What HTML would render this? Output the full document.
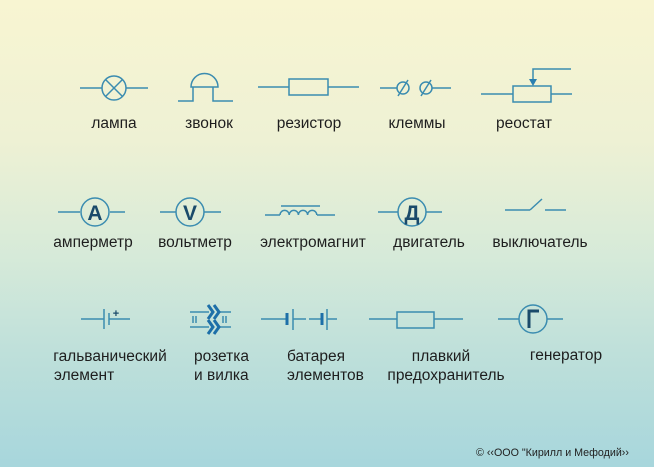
<!DOCTYPE html>
<html><head><meta charset="utf-8"><style>
html,body{margin:0;padding:0}
body{width:654px;height:467px;overflow:hidden;background:linear-gradient(180deg,#f8f5d2 0%,#eef1d4 30%,#d6ead9 55%,#bfe0da 75%,#a7d6dc 100%);font-family:"Liberation Sans",sans-serif}
svg{position:absolute;left:0;top:0}
</style></head><body>
<svg width="654" height="467" viewBox="0 0 654 467">
<g stroke="#3b8cb0" stroke-width="1.5" fill="none">
<line x1="80" y1="88" x2="102" y2="88"/><line x1="126" y1="88" x2="148" y2="88"/>
<circle cx="114" cy="88" r="12"/><line x1="105.5" y1="79.5" x2="122.5" y2="96.5"/><line x1="122.5" y1="79.5" x2="105.5" y2="96.5"/>
<path d="M191 87 A13.5 13.5 0 0 1 218 87 Z"/><path d="M178 101 H193 V87 M213 87 V101 H233"/>
<line x1="258" y1="87" x2="289" y2="87"/><line x1="328" y1="87" x2="359" y2="87"/><rect x="289" y="79" width="39" height="16"/>
<line x1="380" y1="88" x2="397" y2="88"/><circle cx="403" cy="88" r="6"/><line x1="398" y1="96" x2="408" y2="80"/>
<circle cx="426" cy="88" r="6"/><line x1="421" y1="96" x2="431" y2="80"/><line x1="432" y1="88" x2="451" y2="88"/>
<line x1="481" y1="94" x2="513" y2="94"/><line x1="551" y1="94" x2="572" y2="94"/><rect x="513" y="86" width="38" height="16"/>
<path d="M571 69 H533 V80"/>
</g>
<path d="M529 79 L537 79 L533 86 Z" fill="#2a7fb0"/>
<g stroke="#3b8cb0" stroke-width="1.5" fill="none">
<line x1="58" y1="212" x2="80" y2="212"/><line x1="110" y1="212" x2="125" y2="212"/><circle cx="95" cy="212" r="14"/>
<line x1="160" y1="212" x2="176" y2="212"/><line x1="204" y1="212" x2="221" y2="212"/><circle cx="190" cy="212" r="14"/>
<line x1="265" y1="215" x2="280" y2="215"/><line x1="317" y1="215" x2="335" y2="215"/>
<path d="M280 215 a4.6 4.6 0 0 1 9.2 0 a4.6 4.6 0 0 1 9.2 0 a4.6 4.6 0 0 1 9.2 0 a4.6 4.6 0 0 1 9.2 0"/>
<line x1="281" y1="206" x2="320" y2="206"/>
<line x1="378" y1="212" x2="398" y2="212"/><line x1="426" y1="212" x2="442" y2="212"/><circle cx="412" cy="212" r="14"/>
<line x1="505" y1="210" x2="530" y2="210"/><line x1="530" y1="210" x2="542" y2="199"/><line x1="545" y1="210" x2="566" y2="210"/>
<line x1="81" y1="319" x2="104" y2="319"/><line x1="104" y1="309" x2="104" y2="329"/><line x1="109" y1="313" x2="109" y2="325"/><line x1="109" y1="319" x2="130" y2="319"/>
<line x1="190" y1="312" x2="209" y2="312"/><line x1="190" y1="327" x2="209" y2="327"/><line x1="219" y1="312" x2="231" y2="312"/><line x1="219" y1="327" x2="231" y2="327"/>
<line x1="193" y1="316" x2="193" y2="323"/><line x1="196" y1="316" x2="196" y2="323"/><line x1="223" y1="316" x2="223" y2="323"/><line x1="226" y1="316" x2="226" y2="323"/>
<line x1="261" y1="319" x2="287" y2="319"/><line x1="293" y1="309" x2="293" y2="330"/><line x1="293" y1="319" x2="306" y2="319"/>
<line x1="309" y1="319" x2="322" y2="319"/><line x1="327" y1="309" x2="327" y2="330"/><line x1="327" y1="319" x2="337" y2="319"/>
<line x1="369" y1="319" x2="397" y2="319"/><line x1="434" y1="319" x2="463" y2="319"/><rect x="397" y="312" width="37" height="16"/>
<line x1="498" y1="319" x2="519" y2="319"/><line x1="547" y1="319" x2="563" y2="319"/><circle cx="533" cy="319" r="14"/>
</g>
<g stroke="#1d6fa8" stroke-width="3" fill="none">
<polyline points="208,305 213,312 208,319"/><polyline points="214,305 219,312 214,319"/>
<polyline points="208,320 213,327 208,334"/><polyline points="214,320 219,327 214,334"/>
<line x1="287" y1="313" x2="287" y2="325"/><line x1="322" y1="313" x2="322" y2="325"/>
<path d="M529 328 V311 H539" stroke="#1a4a6a"/>
</g>
<g font-family="Liberation Sans,sans-serif" font-weight="bold" fill="#1a4a6a" text-anchor="middle">
<text x="95" y="220" font-size="21">A</text><text x="190" y="220" font-size="21">V</text><text x="412" y="220" font-size="21">Д</text>
<text x="116" y="317" font-size="11">+</text>
</g>
<g font-family="Liberation Sans,sans-serif" font-size="15.5" fill="#1e1e1e" text-anchor="middle">
<text x="114" y="128">лампа</text><text x="209" y="128">звонок</text><text x="309" y="128">резистор</text><text x="417" y="128">клеммы</text><text x="524" y="128">реостат</text>
<text x="93" y="247">амперметр</text><text x="195" y="247">вольтметр</text><text x="313" y="247">электромагнит</text><text x="429" y="247">двигатель</text><text x="540" y="247">выключатель</text>
<text x="110" y="361">гальванический</text>
<text x="441" y="361">плавкий</text><text x="446" y="380">предохранитель</text>
<text x="566" y="360">генератор</text>
</g>
<g font-family="Liberation Sans,sans-serif" font-size="15.5" fill="#1e1e1e">
<text x="54" y="380">элемент</text>
<text x="194" y="361">розетка</text><text x="194" y="380">и вилка</text>
<text x="287" y="361">батарея</text><text x="287" y="380">элементов</text>
</g>
<text x="476" y="456" font-family="Liberation Sans,sans-serif" font-size="10.7" fill="#222">© ‹‹ООО "Кирилл и Мефодий››</text>
</svg>
</body></html>
